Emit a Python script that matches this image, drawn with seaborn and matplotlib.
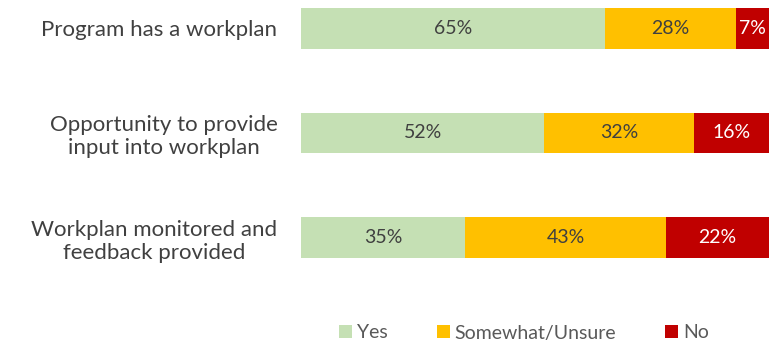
import matplotlib
matplotlib.use("Agg")
import matplotlib.pyplot as plt
import seaborn as sns
import pandas as pd
from matplotlib.patches import Patch

categories = [
    "Program has a workplan",
    "Opportunity to provide\ninput into workplan",
    "Workplan monitored and\nfeedback provided",
]
series_names = ["Yes", "Somewhat/Unsure", "No"]
yes = [65, 52, 35]
somewhat = [28, 32, 43]
no = [7, 16, 22]

colors = ["#C5E0B4", "#FFC000", "#C00000"]
label_colors = ["#404040", "#404040", "#FFFFFF"]

sns.set_theme(style="white")
plt.rcParams["font.family"] = ["Lato", "DejaVu Sans"]

df = pd.DataFrame({"category": categories, "Yes": yes,
                   "Somewhat/Unsure": somewhat, "No": no})
cum = df[series_names].cumsum(axis=1)
cum["category"] = df["category"]

fig = plt.figure(figsize=(7.69, 3.43), dpi=100)
ax = fig.add_axes([301 / 769, 43 / 343, 468 / 769, 300 / 343])

# Stack by drawing cumulative totals from the largest down
for name, color in reversed(list(zip(series_names, colors))):
    sns.barplot(data=cum, x=name, y="category", color=color, orient="h",
                width=0.39, ax=ax, saturation=1, linewidth=0)

# Value labels centered in each segment
for i in range(len(categories)):
    left = 0
    for name, tcolor in zip(series_names, label_colors):
        v = df.loc[i, name]
        ax.text(left + v / 2, i, f"{v}%", ha="center", va="center",
                color=tcolor, fontsize=14)
        left += v

ax.set_xlim(0, 100)
ax.set_ylim(2 + 62.5 / 104.5, -28.5 / 104.5)
ax.set_xlabel("")
ax.set_ylabel("")
ax.set_xticks([])
ax.set_yticks(range(len(categories)))
ax.set_yticklabels(categories, fontsize=16, color="#404040",
                   multialignment="center")
ax.tick_params(axis="y", length=0, pad=17)
for s in ax.spines.values():
    s.set_visible(False)

handles = [Patch(facecolor=c, edgecolor="none") for c in colors]
fig.legend(handles, series_names, loc="center",
           bbox_to_anchor=(524 / 769, 1 - 333 / 343),
           ncol=3, frameon=False, fontsize=14, handlelength=0.67,
           handleheight=0.67, handletextpad=0.26, columnspacing=2.5,
           labelcolor="#595959")

fig.savefig("out.png", dpi=100)
